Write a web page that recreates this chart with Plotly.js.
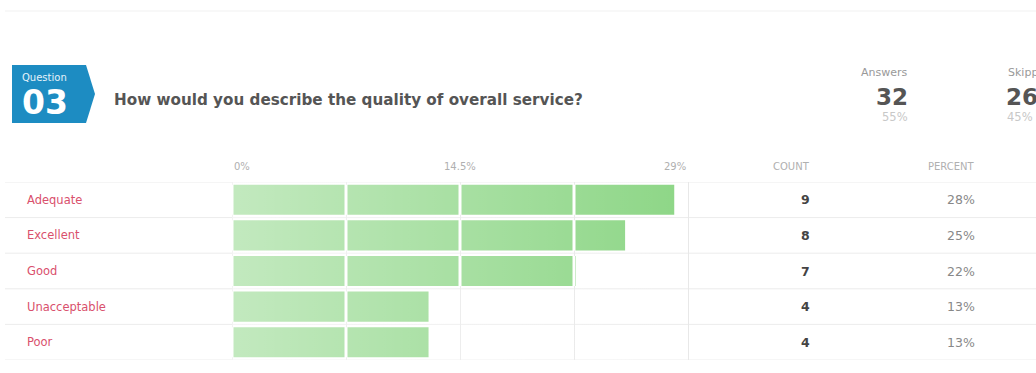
<!DOCTYPE html>
<html>
<head>
<meta charset="utf-8">
<script src="https://cdn.plot.ly/plotly-3.0.1.min.js"></script>
<style>
html,body{margin:0;padding:0;background:#fff;}
#chart{width:1036px;height:373px;}
</style>
</head>
<body>
<div id="chart"></div>
<script>
// ---- data ----
var categories = ['Adequate', 'Excellent', 'Good', 'Unacceptable', 'Poor'];
var counts = [9, 8, 7, 4, 4];
var percents = [28.125, 25, 21.875, 12.5, 12.5];
var tickVals = [0, 7.25, 14.5, 21.75, 29];
var tickLabels = ['0%', '', '14.5%', '', '29%'];
var questionNumber = '03';
var questionText = 'How would you describe the quality of overall service?';
var answersCount = 32, answersPct = '55%';
var skippedCount = 26, skippedPct = '45%';

// ---- layout geometry (pixels) ----
var W = 1036, H = 373;
var mL = 61, mR = 0, mT = 182, mB = 13;
var PW = W - mL - mR, PH = H - mT - mB;
function px(x) { return (x - mL) / PW; }
function py(y) { return (H - mB - y) / PH; }

var FONT = 'DejaVu Sans, Verdana, sans-serif';
var BAR_GREEN = '#8dd686';

var trace = {
  type: 'bar',
  orientation: 'h',
  y: categories,
  x: percents,
  marker: {
    color: BAR_GREEN,
    line: {width: 0},
    pattern: {
      shape: '|',
      fillmode: 'overlay',
      bgcolor: BAR_GREEN,
      fgcolor: '#ffffff',
      fgopacity: 1,
      size: 114,
      solidity: 3 / 114
    }
  },
  hoverinfo: 'none'
};

// white fade overlay (light on the left, clear on the right) -> gradient look of the bars
var fadeSvg = "<svg xmlns='http://www.w3.org/2000/svg' width='100' height='10' viewBox='0 0 100 10' preserveAspectRatio='none'>" +
  "<defs><linearGradient id='g' x1='0' y1='0' x2='1' y2='0'>" +
  "<stop offset='0' stop-color='#ffffff' stop-opacity='0.47'/>" +
  "<stop offset='1' stop-color='#ffffff' stop-opacity='0'/>" +
  "</linearGradient></defs><rect x='0' y='0' width='100' height='10' fill='url(#g)'/></svg>";
var fadeSrc = 'data:image/svg+xml;charset=utf-8,' + encodeURIComponent(fadeSvg);

var annotations = [];
var shapes = [];

// top faint separator
shapes.push({type: 'line', xref: 'paper', yref: 'paper', x0: px(5), x1: px(1036), y0: py(11), y1: py(11),
  line: {color: '#f1f1f1', width: 1}, layer: 'below'});

// row separators
for (var i = 0; i <= categories.length; i++) {
  shapes.push({type: 'line', xref: 'paper', yref: 'y', x0: px(5), x1: 1, y0: i - 0.5, y1: i - 0.5,
    line: {color: '#ececec', width: 1}, layer: 'below'});
}

// question badge
var bx0 = px(12), bx1 = px(86), btip = px(95);
var by0 = py(65), by1 = py(123), bmid = py(94);
shapes.push({type: 'path', xref: 'paper', yref: 'paper',
  path: 'M' + bx0 + ',' + by0 + ' L' + bx1 + ',' + by0 + ' L' + btip + ',' + bmid + ' L' + bx1 + ',' + by1 + ' L' + bx0 + ',' + by1 + ' Z',
  fillcolor: '#1d8cc2', line: {width: 0}, layer: 'above'});

annotations.push({xref: 'paper', yref: 'paper', x: px(20), y: py(78), text: 'Question', showarrow: false,
  xanchor: 'left', yanchor: 'middle', font: {family: FONT, size: 10, color: '#e6f3fa'}});
annotations.push({xref: 'paper', yref: 'paper', x: px(20), y: py(103), text: '<b>' + questionNumber + '</b>', showarrow: false,
  xanchor: 'left', yanchor: 'middle', font: {family: FONT, size: 33, color: '#ffffff'}});
annotations.push({xref: 'paper', yref: 'paper', x: px(112), y: py(100), text: '<b>' + questionText + '</b>', showarrow: false,
  xanchor: 'left', yanchor: 'middle', font: {family: FONT, size: 15.2, color: '#555555'}});

// answers / skipped
annotations.push({xref: 'paper', yref: 'paper', x: px(910), y: py(73), text: 'Answers', showarrow: false,
  xanchor: 'right', yanchor: 'middle', font: {family: FONT, size: 11, color: '#999999'}});
annotations.push({xref: 'paper', yref: 'paper', x: px(910), y: py(97), text: '<b>' + answersCount + '</b>', showarrow: false,
  xanchor: 'right', yanchor: 'middle', font: {family: FONT, size: 23, color: '#555555'}});
annotations.push({xref: 'paper', yref: 'paper', x: px(910), y: py(117), text: answersPct, showarrow: false,
  xanchor: 'right', yanchor: 'middle', font: {family: FONT, size: 11.5, color: '#c8c8c8'}});
annotations.push({xref: 'paper', yref: 'paper', x: px(1006), y: py(73), text: 'Skipped', showarrow: false,
  xanchor: 'left', yanchor: 'middle', font: {family: FONT, size: 11, color: '#999999'}});
annotations.push({xref: 'paper', yref: 'paper', x: px(1004), y: py(97), text: '<b>' + skippedCount + '</b>', showarrow: false,
  xanchor: 'left', yanchor: 'middle', font: {family: FONT, size: 23, color: '#555555'}});
annotations.push({xref: 'paper', yref: 'paper', x: px(1005), y: py(117), text: skippedPct, showarrow: false,
  xanchor: 'left', yanchor: 'middle', font: {family: FONT, size: 11.5, color: '#c8c8c8'}});

// x tick labels (top)
var tickAnchors = ['left', 'center', 'center', 'center', 'right'];
tickVals.forEach(function (v, k) {
  if (!tickLabels[k]) return;
  annotations.push({xref: 'x', yref: 'paper', x: v, y: py(166), text: tickLabels[k], showarrow: false,
    xanchor: tickAnchors[k], yanchor: 'middle', font: {family: FONT, size: 10, color: '#b0b0b0'}});
});

// column headers
annotations.push({xref: 'paper', yref: 'paper', x: px(812), y: py(166), text: 'COUNT', showarrow: false,
  xanchor: 'right', yanchor: 'middle', font: {family: FONT, size: 10, color: '#b0b0b0'}});
annotations.push({xref: 'paper', yref: 'paper', x: px(977), y: py(166), text: 'PERCENT', showarrow: false,
  xanchor: 'right', yanchor: 'middle', font: {family: FONT, size: 10, color: '#b0b0b0'}});

// row labels, counts, percents
categories.forEach(function (c, k) {
  annotations.push({xref: 'paper', yref: 'y', x: px(25), y: c, text: c, showarrow: false,
    xanchor: 'left', yanchor: 'middle', font: {family: FONT, size: 11.5, color: '#d9506c'}});
  annotations.push({xref: 'paper', yref: 'y', x: px(812), y: c, text: '<b>' + counts[k] + '</b>', showarrow: false,
    xanchor: 'right', yanchor: 'middle', font: {family: FONT, size: 12.5, color: '#444444'}});
  annotations.push({xref: 'paper', yref: 'y', x: px(977), y: c, text: Math.round(percents[k]) + '%', showarrow: false,
    xanchor: 'right', yanchor: 'middle', font: {family: FONT, size: 12.5, color: '#888888'}});
});

var xPerPx = 29 / 456;
var layout = {
  width: W, height: H,
  margin: {l: mL, r: mR, t: mT, b: mB, pad: 0},
  paper_bgcolor: '#ffffff',
  plot_bgcolor: '#ffffff',
  showlegend: false,
  bargap: 0.155,
  font: {family: FONT, color: '#555'},
  xaxis: {
    range: [(mL - 232) * xPerPx, (W - mR - 232) * xPerPx],
    tickmode: 'array',
    tickvals: tickVals,
    showticklabels: false,
    ticks: '',
    showgrid: true,
    gridcolor: '#e8e8e8',
    gridwidth: 1,
    zeroline: false,
    showline: false,
    fixedrange: true
  },
  yaxis: {
    type: 'category',
    categoryorder: 'array',
    categoryarray: categories,
    range: [categories.length - 0.5, -0.5],
    showticklabels: false,
    showgrid: false,
    zeroline: false,
    showline: false,
    ticks: '',
    fixedrange: true
  },
  images: [{
    source: fadeSrc,
    xref: 'x', yref: 'paper',
    x: tickVals[0], y: 1,
    sizex: tickVals[tickVals.length - 1] - tickVals[0], sizey: 1,
    xanchor: 'left', yanchor: 'top',
    sizing: 'stretch',
    layer: 'above',
    opacity: 1
  }],
  shapes: shapes,
  annotations: annotations
};

Plotly.newPlot('chart', [trace], layout, {displayModeBar: false, staticPlot: true});
</script>
</body>
</html>
